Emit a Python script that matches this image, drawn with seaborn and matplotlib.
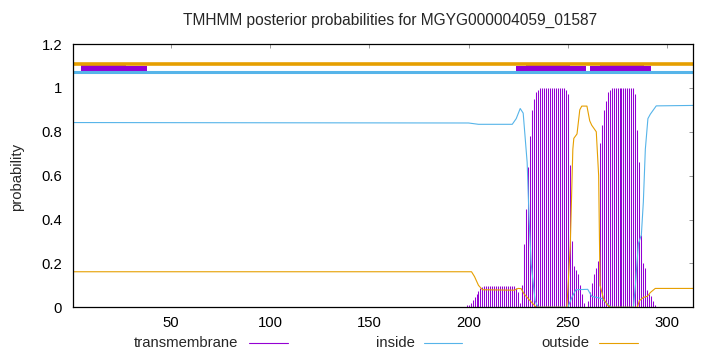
import numpy as np
import pandas as pd
import matplotlib
matplotlib.use("Agg")
import matplotlib.pyplot as plt
import seaborn as sns
from matplotlib.lines import Line2D

TITLE = "TMHMM posterior probabilities for MGYG000004059_01587"
SEQ_LEN = 313

# posterior "inside" (residue -> probability)
inside_pos = [1, 200, 205, 222, 224, 226, 227.5, 229.5, 230.5, 231.5, 233.5, 235,
              250, 252, 254, 260, 262, 267, 270, 272, 283, 284, 285.5, 287,
              288, 289, 290.3, 291.5, 294.5, 313]
inside_val = [0.842, 0.840, 0.834, 0.834, 0.86, 0.906, 0.885, 0.66, 0.40, 0.20, 0.03, 0.0,
              0.0, 0.045, 0.08, 0.082, 0.05, 0.04, 0.015, 0.0, 0.0, 0.10, 0.29, 0.33,
              0.48, 0.72, 0.86, 0.88, 0.918, 0.92]

# posterior "outside"
outside_pos = [1, 201.5, 203, 205, 207, 223, 225, 226.5, 228, 230, 232, 234,
               249.5, 251.2, 252.5, 253, 254.6, 256, 257, 259.6, 261, 262, 264.3,
               265.5, 266.2, 268, 270, 271.5, 285, 286, 288, 290, 291.6, 294, 313]
outside_val = [0.162, 0.162, 0.14, 0.10, 0.08, 0.078, 0.086, 0.085, 0.06, 0.04, 0.02, 0.0,
               0.0, 0.28, 0.72, 0.77, 0.79, 0.90, 0.917, 0.917, 0.85, 0.83, 0.80,
               0.60, 0.10, 0.038, 0.01, 0.0, 0.0, 0.03, 0.045, 0.05, 0.068, 0.086, 0.086]

# posterior "transmembrane", one value per residue starting at residue 199
tm_first = 199
tm_val = [0.01, 0.01, 0.02, 0.035, 0.048, 0.06, 0.075, 0.088, 0.094,
          0.097, 0.097, 0.097, 0.097, 0.097, 0.097, 0.097, 0.097,
          0.097, 0.097, 0.097, 0.097, 0.097, 0.097, 0.097, 0.097,
          0.09, 0.068, 0.02, 0.10, 0.29, 0.45, 0.64, 0.78, 0.90, 0.95, 0.98, 0.99,
          1.0, 1.0, 1.0, 1.0, 1.0, 1.0, 1.0, 1.0, 1.0, 1.0, 1.0, 1.0, 1.0,
          0.99, 0.97, 0.65, 0.30, 0.19, 0.17, 0.15, 0.10, 0.06, 0.02, 0.0,
          0.03, 0.07, 0.11, 0.15, 0.18, 0.21, 0.75, 0.83, 0.90, 0.94, 0.98, 0.99,
          1.0, 1.0, 1.0, 1.0, 1.0, 1.0, 1.0, 1.0, 1.0, 1.0, 1.0, 1.0,
          0.97, 0.81, 0.66, 0.33, 0.20, 0.18, 0.08, 0.06, 0.05, 0.03, 0.01]

# predicted topology bar at the top (start, end)
tm_seg_outer = [(5.0, 38.2), (224.1, 259.0), (261.0, 291.9)]
tm_seg_core = [(5.0, 27.3), (229.1, 251.3), (266.0, 288.2)]

xticks = [50, 100, 150, 200, 250, 300]
yticks = [0, 0.2, 0.4, 0.6, 0.8, 1.0, 1.2]
ytick_labels = ["0", "0.2", "0.4", "0.6", "0.8", "1", "1.2"]

C_TM = "#9400d3"
C_IN = "#56b4e9"
C_OUT = "#e69f00"
FS = 10.7

sns.set_style("white")
plt.rcParams["font.family"] = ["Liberation Sans", "DejaVu Sans"]

fig = plt.figure(figsize=(7.2, 3.52), dpi=100)
ax = fig.add_axes([73.3 / 720, 1 - 307.3 / 352, (693 - 73.3) / 720, (307.3 - 44) / 352])

df_in = pd.DataFrame({"pos": inside_pos, "prob": inside_val})
df_out = pd.DataFrame({"pos": outside_pos, "prob": outside_val})
tm_pos = np.arange(tm_first, tm_first + len(tm_val))

ax.vlines(tm_pos, 0, tm_val, color=C_TM, linewidth=0.75)
sns.lineplot(data=df_in, x="pos", y="prob", color=C_IN, linewidth=0.8,
             estimator=None, sort=False, ax=ax)
sns.lineplot(data=df_out, x="pos", y="prob", color=C_OUT, linewidth=0.8,
             estimator=None, sort=False, ax=ax)

# topology bar
ax.axhline(1.109, color=C_OUT, linewidth=2.6)
ax.axhline(1.071, color=C_IN, linewidth=2.2)
for s, e in tm_seg_outer:
    ax.barh(1.084, e - s, left=s, height=0.034, color=C_TM, linewidth=0)
for s, e in tm_seg_core:
    ax.barh(1.0915, e - s, left=s, height=0.047, color=C_TM, linewidth=0)

ax.set_xlim(1, SEQ_LEN)
ax.set_ylim(0, 1.2)
ax.set_xticks(xticks)
ax.set_xticklabels([str(t) for t in xticks])
ax.set_yticks(yticks)
ax.set_yticklabels(ytick_labels)
ax.tick_params(direction="in", length=3, width=0.6, color="#888888",
               top=True, right=True, labelsize=FS, labelcolor="black")
ax.tick_params(axis="y", pad=8)
ax.tick_params(axis="x", pad=6)
for sp in ax.spines.values():
    sp.set_color("black")
    sp.set_linewidth(0.9)

ax.set_xlabel("")
ax.set_ylabel("probability", fontsize=FS)
ax.yaxis.set_label_coords((24 - 73.3) / 619.7, 0.495)

fig.text(390 / 720, 1 - 20 / 352, TITLE, ha="center", va="center", fontsize=11.2)

# gnuplot-style key along the bottom
ly = 1 - 343 / 352
for label, color, tx, x0, x1 in [("transmembrane", C_TM, 238.5, 249, 288),
                                  ("inside", C_IN, 414.6, 424, 462),
                                  ("outside", C_OUT, 589, 599, 638)]:
    fig.text(tx / 720, ly, label, ha="right", va="center", fontsize=FS)
    fig.add_artist(Line2D([x0 / 720, x1 / 720], [ly, ly], color=color, linewidth=0.8))

fig.savefig("out.png", dpi=100)
